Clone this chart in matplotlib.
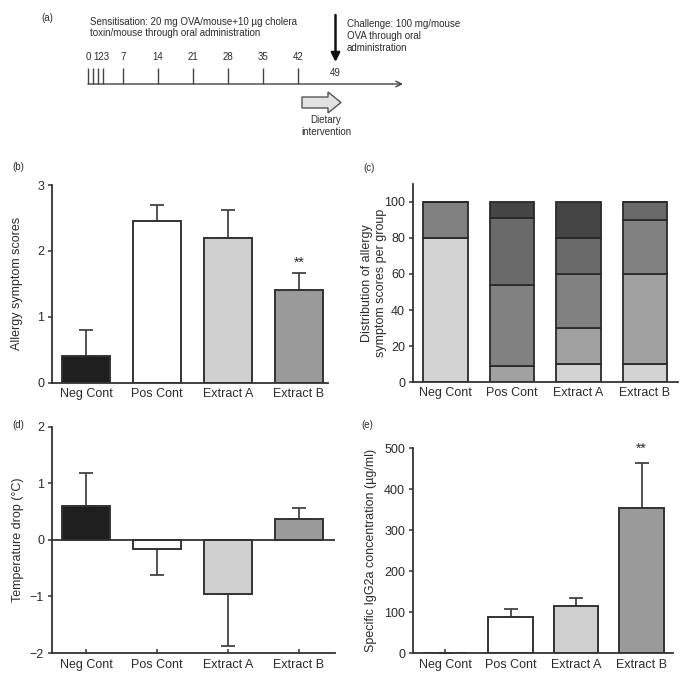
import matplotlib
matplotlib.use('Agg')
import matplotlib.pyplot as plt
import numpy as np
from matplotlib import font_manager
from matplotlib.patches import FancyArrow

# ---------------- data ----------------
groups = ['Neg Cont', 'Pos Cont', 'Extract A', 'Extract B']
bar_colors = ['#1e1e1e', '#ffffff', '#d0d0d0', '#9a9a9a']

# (b) allergy symptom scores
score_mean = [0.40, 2.45, 2.20, 1.40]
score_err = [0.40, 0.25, 0.42, 0.26]
score_sig = ['', '', '', '**']

# (c) distribution of symptom scores (% per group), by score level
dist_score0 = [80, 0, 10, 10]
dist_score1 = [0, 9, 20, 50]
dist_score2 = [20, 45, 30, 30]
dist_score3 = [0, 37, 20, 10]
dist_score4 = [0, 9, 20, 0]
dist_colors = ['#d3d3d3', '#a0a0a0', '#818181', '#6a6a6a', '#454545']

# (d) temperature drop
temp_mean = [0.60, -0.17, -0.95, 0.36]
temp_err = [0.58, 0.45, 0.93, 0.21]

# (e) specific IgG2a
igg_mean = [0, 87, 114, 353]
igg_err = [0, 20, 20, 112]
igg_sig = ['', '', '', '**']

# (a) timeline
tick_days = [0, 1, 2, 3, 7, 14, 21, 28, 35, 42]
label_days = [0, 2.6, 7, 14, 21, 28, 35, 42]
label_texts = ['0', '123', '7', '14', '21', '28', '35', '42']
challenge_day = 49
diet_start, diet_end = 42, 49
timeline_end = 63

# ---------------- style ----------------
names = {f.name for f in font_manager.fontManager.ttflist}
MAIN = 'Liberation Sans' if 'Liberation Sans' in names else 'DejaVu Sans'
if 'Liberation Sans Narrow' in names:
    NARROW = dict(family='Liberation Sans Narrow', size=8.4)
else:
    NARROW = dict(family=MAIN, size=7.0)

plt.rcParams['font.family'] = [MAIN, 'DejaVu Sans']
plt.rcParams['font.size'] = 9
TXT = '#2b2b2b'
AX = '#333333'

W, H = 680, 673
fig = plt.figure(figsize=(6.8, 6.73), dpi=100)


def rect(l, t, r, b):
    return [l / W, 1 - b / H, (r - l) / W, (b - t) / H]


def ftext(x, y, s, **kw):
    fig.text(x / W, 1 - y / H, s, color=TXT, **kw)


# ---------------- (a) timeline ----------------
ax_a = fig.add_axes([0, 1 - 150 / H, 1, 150 / H])
ax_a.set_xlim(-88 / 5, (W - 88) / 5)
ax_a.set_ylim(150, 0)
ax_a.axis('off')
ax_a.annotate('', xy=(timeline_end, 84), xytext=(0, 84),
              arrowprops=dict(arrowstyle='->', color='#444444', lw=1.0,
                              shrinkA=0, shrinkB=0, mutation_scale=10))
ax_a.vlines(tick_days, 68, 84, color='#444444', lw=1.0)
for d, s in zip(label_days, label_texts):
    ax_a.text(d, 57, s, ha='center', va='center', color=TXT,
              family=NARROW['family'], size=NARROW['size'])
ax_a.text(challenge_day + 0.5, 73, str(challenge_day), ha='center', va='center',
          color=TXT, family=NARROW['family'], size=NARROW['size'])
ax_a.annotate('', xy=(challenge_day + 0.5, 62), xytext=(challenge_day + 0.5, 15),
              arrowprops=dict(arrowstyle='-|>', color='#111111', lw=1.8,
                              shrinkA=0, shrinkB=0, mutation_scale=13))
ax_a.add_patch(FancyArrow(diet_start + 0.8, 102.5, diet_end - diet_start + 0.8, 0,
                          width=11, head_width=21, head_length=2.6,
                          length_includes_head=True, fc='#e2e2e2',
                          ec='#555555', lw=1.0))

ftext(41, 18, '(a)', ha='left', va='center', **NARROW)
ftext(90, 17, 'Sensitisation: 20 mg OVA/mouse+10 µg cholera\n'
      'toxin/mouse through oral administration', ha='left', va='top',
      linespacing=1.15, **NARROW)
ftext(347, 19, 'Challenge: 100 mg/mouse\nOVA through oral\nadministration',
      ha='left', va='top', linespacing=1.25, **NARROW)
ftext(326, 115, 'Dietary\nintervention', ha='center', va='top',
      linespacing=1.2, **NARROW)

ftext(12, 167, '(b)', ha='left', va='center', **NARROW)
ftext(363, 168, '(c)', ha='left', va='center', **NARROW)
ftext(12, 425, '(d)', ha='left', va='center', **NARROW)
ftext(361, 425, '(e)', ha='left', va='center', **NARROW)


def style(ax):
    for s in ('top', 'right'):
        ax.spines[s].set_visible(False)
    for s in ('left', 'bottom'):
        ax.spines[s].set_color(AX)
        ax.spines[s].set_linewidth(1.3)
    ax.tick_params(axis='y', direction='out', length=3, width=1.1,
                   color=AX, pad=2.5, labelsize=9, labelcolor=TXT)
    ax.tick_params(axis='x', labelsize=9, labelcolor=TXT, color=AX)


def err_bars(ax, x, mean, err):
    lower = [e if m < 0 else 0 for m, e in zip(mean, err)]
    upper = [e if m >= 0 else 0 for m, e in zip(mean, err)]
    ax.errorbar(x, mean, yerr=[lower, upper], fmt='none', ecolor='#444444',
                elinewidth=1.3, capsize=4.7, capthick=1.3, zorder=1)


x = np.arange(len(groups))

# ---------------- (b) ----------------
ax_b = fig.add_axes(rect(52, 185, 328, 382.7))
style(ax_b)
ax_b.bar(x, score_mean, width=0.68, color=bar_colors, edgecolor=AX,
         linewidth=1.4, zorder=2)
err_bars(ax_b, x, score_mean, score_err)
for xi, m, e, s in zip(x, score_mean, score_err, score_sig):
    if s:
        ax_b.text(xi, m + e + 0.16, s, ha='center', va='center', fontsize=10,
                  color=TXT)
ax_b.set_xlim(-0.479, 3.41)
ax_b.set_ylim(0, 3)
ax_b.set_yticks([0, 1, 2, 3])
ax_b.set_xticks(x, groups)
ax_b.tick_params(axis='x', length=0, pad=3.5)
ax_b.set_ylabel('Allergy symptom scores', fontsize=9, color=TXT, va='center')
ax_b.yaxis.set_label_coords((17 - 52) / 276, 0.5)

# ---------------- (c) ----------------
ax_c = fig.add_axes(rect(412.7, 183.6, 678, 382.3))
style(ax_c)
levels = [dist_score0, dist_score1, dist_score2, dist_score3, dist_score4]
bottom = np.zeros(len(groups))
for vals, col in zip(levels, dist_colors):
    vals = np.array(vals, dtype=float)
    ax_c.bar(x, vals, bottom=bottom, width=0.67, color=col,
             edgecolor='#2a2a2a', linewidth=1.3, zorder=2)
    bottom += vals
ax_c.set_xlim(-0.493, 3.496)
ax_c.set_ylim(0, 110)
ax_c.set_yticks([0, 20, 40, 60, 80, 100])
ax_c.set_xticks(x, groups)
ax_c.tick_params(axis='x', length=0, pad=3.5)
ax_c.set_ylabel('Distribution of allergy\nsymptom scores per group',
                fontsize=9, color=TXT, va='center', linespacing=1.2)
ax_c.yaxis.set_label_coords((374 - 412.7) / 265.3, 0.5)

# ---------------- (d) ----------------
ax_d = fig.add_axes(rect(51.7, 426.7, 335, 653))
style(ax_d)
ax_d.bar(x, temp_mean, width=0.68, color=bar_colors, edgecolor=AX,
         linewidth=1.4, zorder=2)
err_bars(ax_d, x, temp_mean, temp_err)
ax_d.axhline(0, color=AX, lw=1.3, zorder=3)
ax_d.set_xlim(-0.483, 3.507)
ax_d.set_ylim(-2, 2)
ax_d.set_yticks([-2, -1, 0, 1, 2])
ax_d.set_xticks(x, groups)
ax_d.tick_params(axis='x', direction='in', length=3, width=1.1, pad=4)
ax_d.set_ylabel('Temperature drop (°C)', fontsize=9, color=TXT, va='center')
ax_d.yaxis.set_label_coords((18 - 51.7) / 283.3, 0.5)

# ---------------- (e) ----------------
ax_e = fig.add_axes(rect(412.7, 448.3, 673, 653))
style(ax_e)
ax_e.set_axisbelow(True)
ax_e.bar(x, igg_mean, width=0.68, color=bar_colors, edgecolor=AX,
         linewidth=1.4, zorder=2)
err_bars(ax_e, x, igg_mean, igg_err)
for xi, m, e, s in zip(x, igg_mean, igg_err, igg_sig):
    if s:
        ax_e.text(xi, m + e + 33, s, ha='center', va='center', fontsize=10,
                  color=TXT)
ax_e.set_xlim(-0.493, 3.478)
ax_e.set_ylim(0, 500)
ax_e.set_yticks([0, 100, 200, 300, 400, 500])
ax_e.set_xticks(x, groups)
ax_e.tick_params(axis='x', direction='in', length=3, width=1.1, pad=4)
ax_e.set_ylabel('Specific IgG2a concentration (µg/ml)', fontsize=9,
                color=TXT, va='center')
ax_e.yaxis.set_label_coords((370.7 - 412.7) / 260.3, 0.5)

fig.savefig('out.png', dpi=100)
